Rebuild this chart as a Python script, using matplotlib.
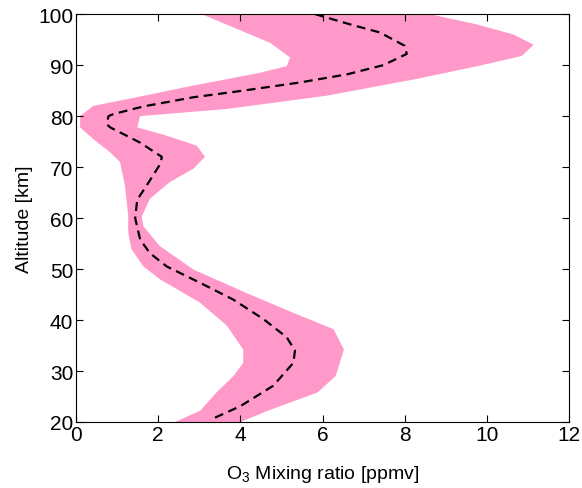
import numpy as np
import matplotlib.pyplot as plt

plt.rcParams['font.family'] = ['Liberation Sans', 'DejaVu Sans']
plt.rcParams['mathtext.fontset'] = 'custom'
plt.rcParams['mathtext.rm'] = 'Liberation Sans'

# mean O3 profile
mean_alt = [100, 98, 96.4, 93.8, 92.2, 90, 88.2, 86.6, 85, 83.7, 81.9, 80.4, 80,
            78.4, 77.8, 74.8, 72, 70.6, 66.4, 63.6, 60, 55.8, 53.1, 50.5, 47.3,
            44, 40.2, 36.6, 34, 31.6, 27.1, 23.1, 20.4]
mean_o3 = [5.82, 6.67, 7.4, 8.0, 8.05, 7.48, 6.6, 5.45, 4.07, 2.86, 1.64, 0.91, 0.79,
           0.75, 0.83, 1.56, 2.09, 2.05, 1.72, 1.49, 1.44, 1.56, 1.8, 2.21, 3.02,
           3.83, 4.56, 5.13, 5.33, 5.29, 4.8, 4.0, 3.26]

# lower edge of the spread
low_alt = [100, 97.4, 94.4, 91.5, 89.8, 88.5, 86, 83.3, 82, 80, 77.8, 75.5, 72.9,
           71, 66.4, 63.6, 60.5, 57.1, 53.9, 50.5, 48, 43.4, 38.9, 34.2, 31.6,
           29, 25.8, 22.2, 20]
low_o3 = [3.06, 3.83, 4.72, 5.21, 5.13, 4.48, 2.86, 1.23, 0.42, 0.1, 0.1, 0.42, 0.83,
          1.07, 1.19, 1.23, 1.27, 1.27, 1.35, 1.64, 2.04, 3.02, 3.67, 4.07, 4.07,
          3.83, 3.42, 3.02, 2.41]

# upper edge of the spread
high_alt = [100, 98, 96, 94, 91.8, 89.9, 87.3, 84, 81.4, 80, 77.8, 76.2, 74.2, 72,
            69.7, 67.1, 63.8, 60.3, 58.4, 54.5, 49.9, 45.3, 41.4, 38.2, 34.2, 29,
            25.8, 22.2, 20]
high_o3 = [8.62, 9.75, 10.65, 11.14, 10.85, 9.83, 8.29, 6.1, 3.67, 1.56, 1.49, 2.19,
           2.94, 3.14, 2.86, 2.29, 1.8, 1.6, 1.64, 2.04, 2.86, 4.15, 5.29, 6.27, 6.52,
           6.32, 5.88, 4.67, 4.0]

fig = plt.figure(figsize=(5.82, 4.89), dpi=100)
ax = fig.add_axes([0.1306, 0.135, 0.8471, 0.834])

ax.fill(np.concatenate([low_o3, high_o3[::-1]]),
        np.concatenate([low_alt, high_alt[::-1]]),
        color='#ff99c9', lw=0)
ax.plot(mean_o3, mean_alt, color='black', ls=(0, (4, 2.5)), lw=1.6)

ax.set_xlim(0, 12)
ax.set_ylim(20, 100)
ax.set_xticks(range(0, 13, 2))
ax.set_yticks(range(20, 101, 10))
ax.tick_params(direction='in', top=True, right=True, labelsize=15, length=5, pad=2)
ax.set_xlabel('O$_3$ Mixing ratio [ppmv]', fontsize=14, labelpad=14)
ax.set_ylabel('Altitude [km]', fontsize=14, labelpad=4)

fig.savefig('out.png', dpi=100)
